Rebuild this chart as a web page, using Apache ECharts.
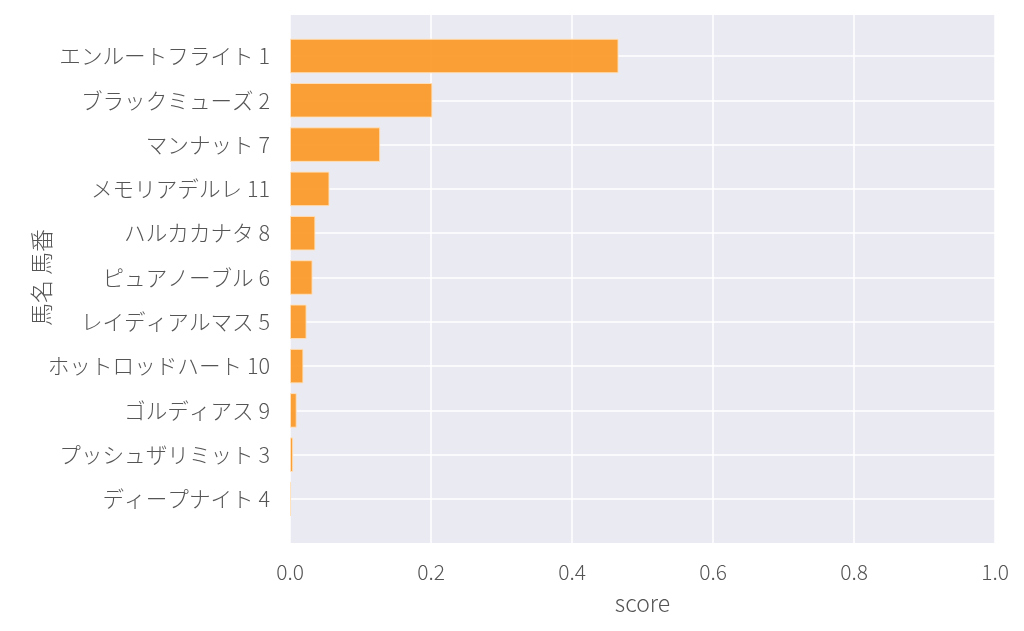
<!DOCTYPE html>
<html><head><meta charset="utf-8">
<script src="https://cdn.jsdelivr.net/npm/echarts@6/dist/echarts.min.js"></script>
<style>html,body{margin:0;padding:0;background:#fff}#c{width:1024px;height:631px}</style>
</head><body><div id="c"></div>
<script>
const horseNames = ['エンルートフライト 1','ブラックミューズ 2','マンナット 7','メモリアデルレ 11','ハルカカナタ 8','ピュアノーブル 6','レイディアルマス 5','ホットロッドハート 10','ゴルディアス 9','プッシュザリミット 3','ディープナイト 4'];
const scores = [0.466, 0.202, 0.128, 0.056, 0.036, 0.032, 0.0235, 0.019, 0.0095, 0.0045, 0.0015];
const xTicks = [0, 0.2, 0.4, 0.6, 0.8, 1.0];

const font = '"Noto Sans CJK JP", "Noto Sans", sans-serif';
const chart = echarts.init(document.getElementById('c'), null, {renderer:'canvas'});
chart.setOption({
  animation: false,
  backgroundColor: '#ffffff',
  grid: [
    {left: 290, right: 29, top: 15, height: 528, show: true, backgroundColor: '#eaeaf2', borderWidth: 0, containLabel: false},
    {left: 290, right: 29, top: 33.85, height: 487.3, show: false, containLabel: false}
  ],
  xAxis: [
    {type: 'value', gridIndex: 0, min: xTicks[0], max: xTicks[xTicks.length-1], interval: 0.2,
     name: 'score', nameLocation: 'middle', nameGap: 49,
     nameTextStyle: {fontFamily: font, fontSize: 23, fontWeight: 200, color: '#555'},
     axisLine: {show: false}, axisTick: {show: false},
     axisLabel: {fontFamily: font, fontSize: 21, fontWeight: 200, color: '#555', margin: 19, formatter: v => v.toFixed(1)},
     splitLine: {show: true, lineStyle: {color: '#ffffff', width: 1.5}}},
    {type: 'value', gridIndex: 1, min: 0, max: 1, show: false}
  ],
  yAxis: [
    {type: 'value', gridIndex: 0, show: false, min: 0, max: 1},
    {type: 'category', gridIndex: 1, inverse: true, data: horseNames,
     name: '馬名 馬番', nameLocation: 'middle', nameGap: 237, nameRotate: 90, nameMoveOverlap: false,
     nameTextStyle: {fontFamily: font, fontSize: 23, fontWeight: 200, color: '#555'},
     axisLine: {show: false}, axisTick: {show: false, alignWithLabel: true},
     axisLabel: {fontFamily: font, fontSize: 21.6, fontWeight: 200, color: '#555', margin: 20},
     splitLine: {show: true, alignWithLabel: true, lineStyle: {color: '#ffffff', width: 1.5}}}
  ],
  series: [{
    type: 'bar', xAxisIndex: 1, yAxisIndex: 1, data: scores, barWidth: '78%',
    itemStyle: {color: 'rgba(250,152,38,0.92)', borderColor: 'rgba(255,226,190,0.9)', borderWidth: 1}
  }]
});
</script></body></html>
